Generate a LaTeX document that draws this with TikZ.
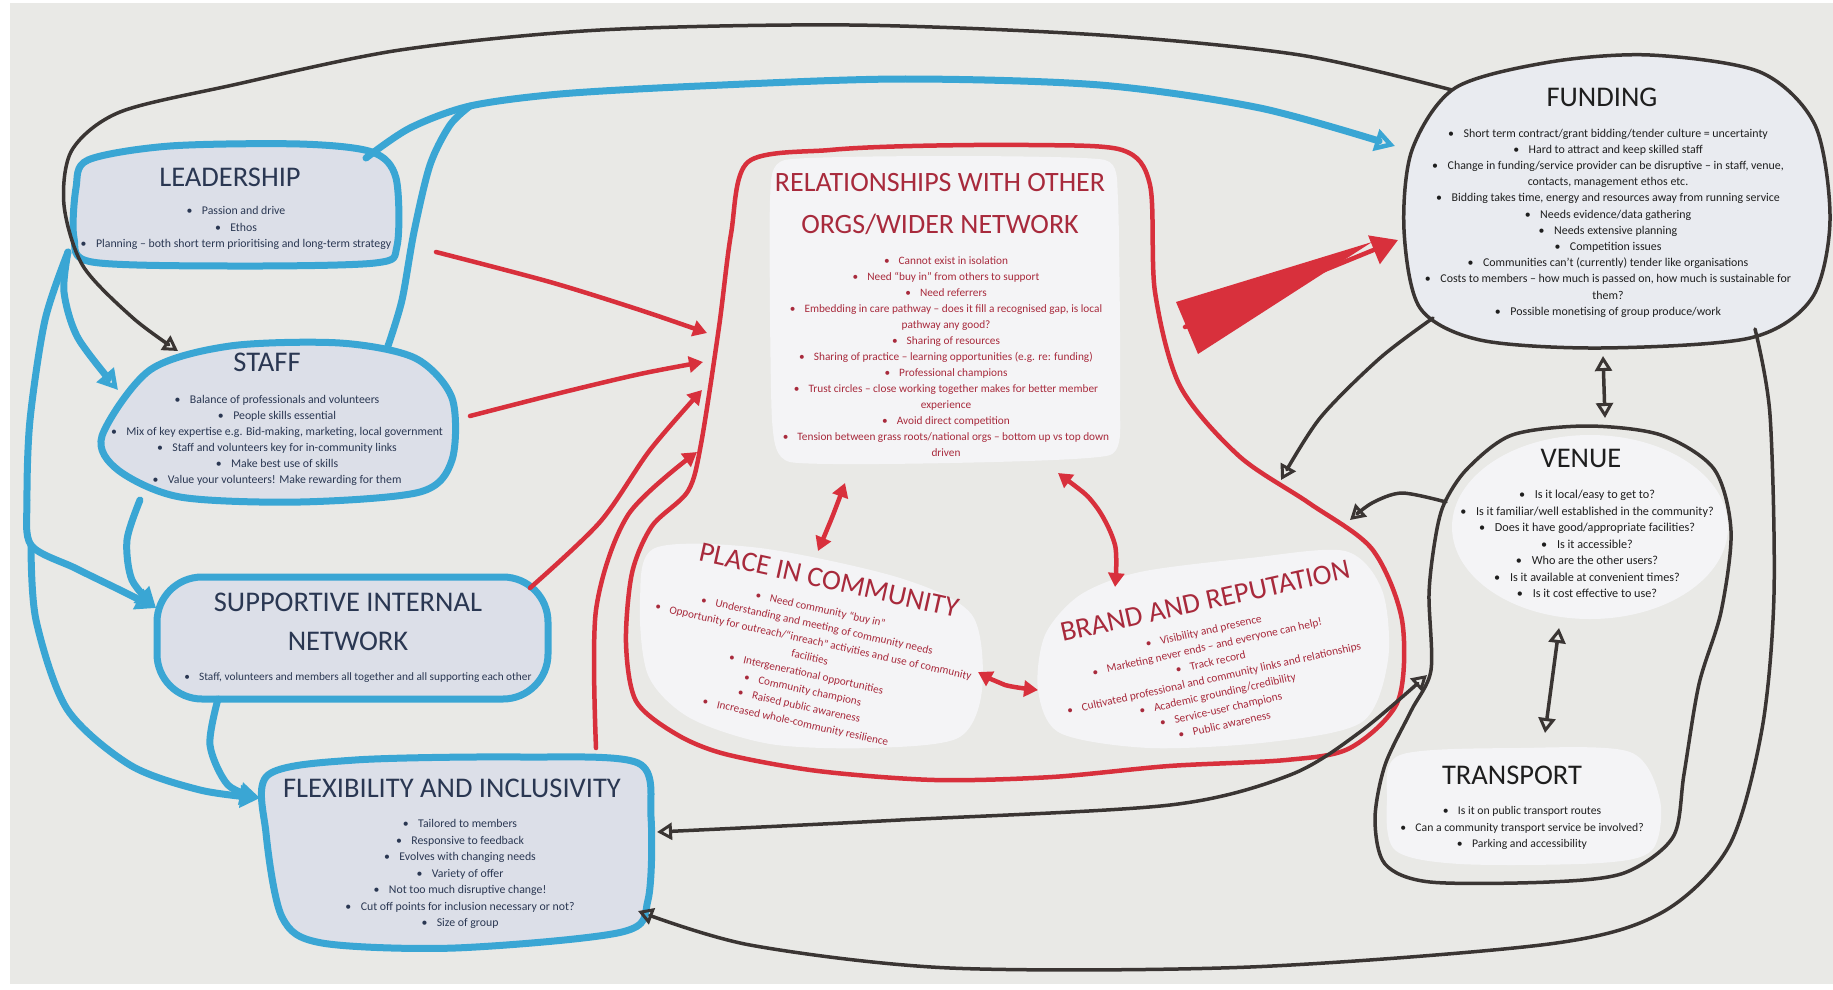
\documentclass[tikz,border=0pt]{standalone}
\usepackage{fontspec}
\setmainfont{Carlito}
\usetikzlibrary{arrows.meta}
\definecolor{board}{HTML}{E9E9E6}
\definecolor{paperb}{HTML}{DCDFE8}
\definecolor{paperw}{HTML}{F4F4F6}
\definecolor{paperk}{HTML}{E9EBF0}
\definecolor{mblue}{HTML}{3AA6D4}
\definecolor{mred}{HTML}{D8303C}
\definecolor{mblack}{HTML}{3A3533}
\definecolor{tblue}{HTML}{2A3752}
\definecolor{tred}{HTML}{A82A3C}
\definecolor{tblack}{HTML}{1E1E1E}
\newcommand{\bl}{\textbullet\hspace{0.8em}}
\begin{document}
\begin{tikzpicture}[x=1pt,y=-1pt,
 ttl/.style={inner sep=0pt,align=center,font=\fontsize{28.5}{41}\selectfont},
 bdy/.style={inner sep=0pt,align=center,font=\fontsize{11.8}{16.5}\selectfont},
 bluepaper/.style={fill=paperb,draw=mblue,line width=7pt,line join=round},
 redline/.style={draw=mred,line width=4.5pt,line cap=round,line join=round},
 blkline/.style={draw=mblack,line width=3.5pt,line cap=round,line join=round},
 bluline/.style={draw=mblue,line width=7pt,line cap=round,line join=round},
 bluarr/.style={bluline,-{Triangle[open,length=20pt,width=22pt,line width=4.5pt]}},
 blkarr/.style={blkline,-{Triangle[open,length=15pt,width=17pt,line width=3pt]}},
 blkdbl/.style={blkline,{Triangle[open,length=15pt,width=17pt,line width=3pt]}-{Triangle[open,length=15pt,width=17pt,line width=3pt]}},
 redarr/.style={redline,-{Triangle[length=14pt,width=16pt]}},
 reddbl/.style={redline,{Triangle[length=14pt,width=16pt]}-{Triangle[length=14pt,width=16pt]}},
]
\useasboundingbox (0,0) rectangle (1833,989);
\fill[white] (0,0) rectangle (1833,989);
\fill[board] (10,3) rectangle (1833,984);

% ---------- papers: blue group ----------
\draw[bluepaper] plot[smooth cycle] coordinates {(88,160) (170,146) (300,144) (372,152) (396,178) (397,246) (375,263) (230,266) (92,262) (74,238) (76,188)};
\draw[bluepaper] plot[smooth cycle] coordinates {(102,436) (150,370) (230,346) (340,343) (415,358) (452,398) (452,460) (420,492) (300,502) (180,497) (118,470)};
\draw[bluepaper, rounded corners=45pt] (157,577) rectangle (548,699);
\draw[bluepaper] plot[smooth cycle] coordinates {(268,775) (355,760) (522,757) (638,763) (651,817) (648,900) (622,932) (455,948) (322,943) (282,917) (266,833)};

% ---------- papers: red group ----------
\fill[paperw] plot[smooth cycle, tension=0.3] coordinates {(785,160) (950,156) (1105,160) (1118,200) (1120,400) (1110,455) (950,463) (790,462) (772,420) (770,200)};
\fill[paperw] plot[smooth cycle] coordinates {(655,548) (760,548) (900,578) (972,615) (982,690) (958,738) (870,748) (770,744) (690,718) (648,675) (640,600)};
\fill[paperw] plot[smooth cycle] coordinates {(1045,635) (1080,595) (1140,572) (1250,558) (1345,551) (1382,590) (1388,660) (1362,722) (1270,742) (1150,748) (1060,733) (1038,690)};

% ---------- papers: black group ----------
\draw[blkline, fill=paperk] plot[smooth cycle] coordinates {(1455,88) (1550,62) (1650,55) (1760,72) (1815,125) (1830,220) (1812,298) (1750,338) (1600,348) (1480,340) (1420,308) (1404,230) (1412,150)};
\fill[paperw] (1590,527) ellipse [x radius=138pt, y radius=92pt];
\fill[paperw] plot[smooth cycle] coordinates {(1400,755) (1520,748) (1630,752) (1660,800) (1652,850) (1600,863) (1460,864) (1395,850) (1387,800)};
\draw[blkline] plot[smooth cycle] coordinates {(1444,504) (1467,469) (1512,435) (1587,426) (1661,435) (1714,469) (1731,531) (1721,612) (1699,684) (1684,774) (1673,837) (1624,873) (1549,882) (1430,882) (1385,864) (1375,819) (1385,765) (1411,711) (1431,670) (1429,594) (1435,540)};

% ---------- red blob ----------
\draw[redline] plot[smooth cycle] coordinates {(748,162) (830,150) (912,146) (1029,145) (1122,150) (1150,185) (1155,292) (1180,386) (1239,456) (1309,503) (1372,549) (1402,620) (1398,701) (1350,748) (1286,760) (1169,766) (1052,777) (935,780) (818,771) (725,754) (676,734) (636,701) (626,643) (632,573) (652,526) (688,491) (701,444) (719,327) (731,234)};

% ---------- texts ----------
\node[ttl,text=tblue] (leadT) at (230,177) {LEADERSHIP};
\node[bdy,text=tblue] (leadB) at (236,228) {\bl Passion and drive\\ \bl Ethos\\ \bl Planning -- both short term prioritising and long-term strategy};

\node[ttl,text=tblue] (staffT) at (267,362) {STAFF};
\node[bdy,text=tblue,font=\fontsize{11.8}{16}\selectfont] (staffB) at (277,440) {\bl Balance of professionals and volunteers\\ \bl People skills essential\\ \bl Mix of key expertise e.g. Bid-making, marketing, local government\\ \bl Staff and volunteers key for in-community links\\ \bl Make best use of skills\\ \bl Value your volunteers! Make rewarding for them};

\node[ttl,text=tblue,font=\fontsize{28.5}{39}\selectfont] (supT) at (348,622) {SUPPORTIVE INTERNAL\\NETWORK};
\node[bdy,text=tblue,font=\fontsize{11.3}{16}\selectfont] (supB) at (358,678) {\bl Staff, volunteers and members all together and all supporting each other};

\node[ttl,text=tblue] (flexT) at (452,788) {FLEXIBILITY AND INCLUSIVITY};
\node[bdy,text=tblue] (flexB) at (460,874) {\bl Tailored to members\\ \bl Responsive to feedback\\ \bl Evolves with changing needs\\ \bl Variety of offer\\ \bl Not too much disruptive change!\\ \bl Cut off points for inclusion necessary or not?\\ \bl Size of group};

\node[ttl,text=tred,font=\fontsize{28}{42}\selectfont] (relT) at (940,204) {RELATIONSHIPS WITH OTHER\\ORGS/WIDER NETWORK};
\node[bdy,text=tred,font=\fontsize{11.3}{16}\selectfont] (relB) at (946,357) {\bl Cannot exist in isolation\\ \bl Need ``buy in'' from others to support\\ \bl Need referrers\\ \bl Embedding in care pathway -- does it fill a recognised gap, is local\\ pathway any good?\\ \bl Sharing of resources\\ \bl Sharing of practice -- learning opportunities (e.g. re: funding)\\ \bl Professional champions\\ \bl Trust circles -- close working together makes for better member\\ experience\\ \bl Avoid direct competition\\ \bl Tension between grass roots/national orgs -- bottom up vs top down\\ driven};

\node[ttl,text=tred,rotate=-12.5] (placeT) at (829,580) {PLACE IN COMMUNITY};
\node[bdy,text=tred,rotate=-12.5,font=\fontsize{11.2}{16.5}\selectfont] (placeB) at (808,666) {\bl Need community ``buy in''\\ \bl Understanding and meeting of community needs\\ \bl Opportunity for outreach/``inreach'' activities and use of community\\ facilities\\ \bl Intergenerational opportunities\\ \bl Community champions\\ \bl Raised public awareness\\ \bl Increased whole-community resilience};

\node[ttl,text=tred,rotate=12.5] (brandT) at (1205,601) {BRAND AND REPUTATION};
\node[bdy,text=tred,rotate=12.5,font=\fontsize{11.4}{16}\selectfont] (brandB) at (1214,678) {\bl Visibility and presence\\ \bl Marketing never ends -- and everyone can help!\\ \bl Track record\\ \bl Cultivated professional and community links and relationships\\ \bl Academic grounding/credibility\\ \bl Service-user champions\\ \bl Public awareness};

\node[ttl,text=tblack] (fundT) at (1602,97) {FUNDING};
\node[bdy,text=tblack,font=\fontsize{11.9}{16.2}\selectfont] (fundB) at (1608,223) {\bl Short term contract/grant bidding/tender culture = uncertainty\\ \bl Hard to attract and keep skilled staff\\ \bl Change in funding/service provider can be disruptive -- in staff, venue,\\ contacts, management ethos etc.\\ \bl Bidding takes time, energy and resources away from running service\\ \bl Needs evidence/data gathering\\ \bl Needs extensive planning\\ \bl Competition issues\\ \bl Communities can't (currently) tender like organisations\\ \bl Costs to members -- how much is passed on, how much is sustainable for\\ them?\\ \bl Possible monetising of group produce/work};

\node[ttl,text=tblack] (venT) at (1581,458) {VENUE};
\node[bdy,text=tblack,font=\fontsize{12.2}{16.5}\selectfont] (venB) at (1587,544) {\bl Is it local/easy to get to?\\ \bl Is it familiar/well established in the community?\\ \bl Does it have good/appropriate facilities?\\ \bl Is it accessible?\\ \bl Who are the other users?\\ \bl Is it available at convenient times?\\ \bl Is it cost effective to use?};

\node[ttl,text=tblack] (trT) at (1512,775) {TRANSPORT};
\node[bdy,text=tblack,font=\fontsize{11.7}{16.5}\selectfont] (trB) at (1522,828) {\bl Is it on public transport routes\\ \bl Can a community transport service be involved?\\ \bl Parking and accessibility};

% ---------- connector end points ----------
\coordinate (fund-nw) at (1452,90);
\coordinate (staff-n) at (178,351);
\coordinate (lead-ne) at (366,158);
\coordinate (fund-w) at (1395,146);
\coordinate (staff-ne) at (388,346);
\coordinate (blue-join) at (470,106);
\coordinate (lead-sw) at (68,252);
\coordinate (staff-w) at (118,390);
\coordinate (sup-w) at (156,608);
\coordinate (left-fork) at (31,545);
\coordinate (flex-w) at (260,798);
\coordinate (staff-s) at (140,500);
\coordinate (sup-s) at (218,699);
\coordinate (lead-e) at (436,252);
\coordinate (rel-w1) at (707,333);
\coordinate (staff-e) at (470,416);
\coordinate (rel-w2) at (703,362);
\coordinate (sup-e) at (530,588);
\coordinate (rel-w3) at (702,390);
\coordinate (flex-n) at (596,748);
\coordinate (rel-w4) at (697,452);
\coordinate (rel-e) at (1185,327);
\coordinate (fund-w2) at (1398,240);
\coordinate (rel-s1) at (845,483);
\coordinate (place-n) at (818,551);
\coordinate (rel-s2) at (1058,473);
\coordinate (brand-n) at (1115,587);
\coordinate (place-e) at (978,672);
\coordinate (brand-w) at (1038,690);
\coordinate (fund-sw) at (1433,318);
\coordinate (blob-ne) at (1281,480);
\coordinate (fund-s) at (1603,356);
\coordinate (ven-n) at (1605,418);
\coordinate (ven-w) at (1446,502);
\coordinate (blob-e) at (1350,520);
\coordinate (ven-s) at (1559,628);
\coordinate (tr-n) at (1545,733);
\coordinate (flex-e) at (657,832);
\coordinate (vt-w) at (1427,675);
\coordinate (fund-se) at (1755,329);
\coordinate (flex-se) at (638,911);

% ---------- black connectors ----------
\draw[blkarr] plot[smooth] coordinates {(fund-nw) (1300,55) (1100,35) (850,25) (600,30) (400,50) (233,85) (120,112) (72,150) (64,205) (83,266) (133,318) (staff-n)};
\draw[blkarr] plot[smooth] coordinates {(fund-sw) (1380,358) (1320,418) (blob-ne)};
\draw[blkdbl] (fund-s) -- (ven-n);
\draw[blkarr] plot[smooth] coordinates {(ven-w) (1402,493) (1372,503) (blob-e)};
\draw[blkdbl] (ven-s) -- (tr-n);
\draw[blkdbl] plot[smooth] coordinates {(flex-e) (900,820) (1170,805) (1290,775) (1360,732) (vt-w)};
\draw[blkarr] plot[smooth] coordinates {(fund-se) (1770,415) (1774,594) (1762,729) (1729,846) (1661,913) (1549,944) (1250,967) (950,968) (750,945) (flex-se)};

% ---------- blue connectors ----------
\draw[bluarr] plot[smooth] coordinates {(lead-ne) (410,128) (blue-join) (560,94) (700,86) (900,79) (1100,85) (1260,108) (fund-w)};
\draw[bluline] plot[smooth] coordinates {(staff-ne) (402,300) (414,232) (430,165) (450,125) (blue-join)};
\draw[bluarr] plot[smooth] coordinates {(lead-sw) (64,292) (78,338) (staff-w)};
\draw[bluarr] plot[smooth] coordinates {(lead-sw) (45,320) (30,420) (27,500) (left-fork) (75,568) (120,590) (sup-w)};
\draw[bluarr] plot[smooth] coordinates {(left-fork) (36,620) (67,709) (130,765) (200,790) (flex-w)};
\draw[bluarr] plot[smooth] coordinates {(staff-s) (127,540) (132,580) (sup-w)};
\draw[bluarr] plot[smooth] coordinates {(sup-s) (210,745) (228,785) (flex-w)};

% ---------- red connectors ----------
\draw[redarr] plot[smooth] coordinates {(lead-e) (550,282) (640,310) (rel-w1)};
\draw[redarr] plot[smooth] coordinates {(staff-e) (560,393) (640,374) (rel-w2)};
\draw[redarr] plot[smooth] coordinates {(sup-e) (600,522) (650,450) (rel-w3)};
\draw[redarr] plot[smooth] coordinates {(flex-n) (596,610) (628,515) (rel-w4)};
\fill[mred] (1176,302) -- (1372,242) -- (1198,354) -- cycle;
\draw[redline,-{Triangle[length=26pt,width=30pt]}] (rel-e) -- (fund-w2);
\draw[reddbl] plot[smooth] coordinates {(rel-s1) (833,515) (place-n)};
\draw[reddbl] plot[smooth] coordinates {(rel-s2) (1095,505) (1115,545) (brand-n)};
\draw[reddbl] plot[smooth] coordinates {(place-e) (1005,685) (brand-w)};
\end{tikzpicture}
\end{document}
